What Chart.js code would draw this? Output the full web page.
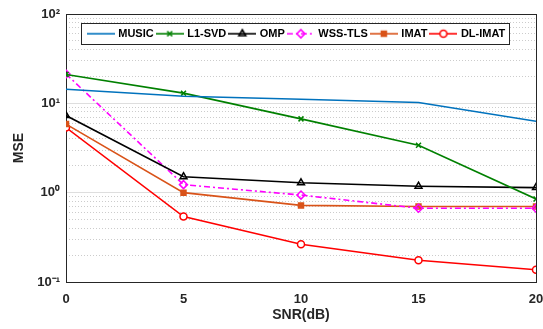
<!DOCTYPE html>
<html>
<head>
<meta charset="utf-8">
<script src="https://cdn.jsdelivr.net/npm/chart.js@4.4.0/dist/chart.umd.min.js"></script>
<style>
html, body { margin: 0; padding: 0; background: #fff; }
</style>
</head>
<body>
<canvas id="grafico" width="543" height="329"></canvas>
<script>
// Dados
const snr = [0, 5, 10, 15, 20];
const music = [14.4, 12.0, 11.1, 10.2, 6.3];
const l1svd = [21.0, 13.0, 6.7, 3.4, 0.85];
const omp = [7.3, 1.51, 1.29, 1.18, 1.14];
const wssTls = [21.3, 1.23, 0.94, 0.67, 0.67];
const imat = [5.86, 1.0, 0.72, 0.70, 0.70];
const dlImat = [5.35, 0.54, 0.264, 0.175, 0.137];

const ticksX = [0, 5, 10, 15, 20];
const decadas = [0.1, 1, 10, 100];
const rotulosDecada = ['10⁻¹', '10⁰', '10¹', '10²'];
const menores = [0.2, 0.3, 0.4, 0.5, 0.6, 0.7, 0.8, 0.9,
                 2, 3, 4, 5, 6, 7, 8, 9,
                 20, 30, 40, 50, 60, 70, 80, 90];

const corEixo = '#262626';
const fonte = 'Liberation Sans, Arial, sans-serif';

// Ícone da legenda: linha + marcador
function iconeLegenda(cor, tracejado, estilo, raio, preenchimento) {
    const c = document.createElement('canvas');
    c.width = 28;
    c.height = 12;
    const g = c.getContext('2d');
    g.strokeStyle = cor;
    g.lineWidth = 1.6;
    g.setLineDash(tracejado);
    g.beginPath();
    g.moveTo(0, 6);
    g.lineTo(28, 6);
    g.stroke();
    g.setLineDash([]);
    if (estilo) {
        g.fillStyle = preenchimento;
        Chart.helpers.drawPoint(g, {pointStyle: estilo, radius: raio, rotation: 0, borderWidth: 1.5}, 14, 6);
    }
    return c;
}

function serie(rotulo, valores, cor, tracejado, estilo, raio, preenchimento) {
    return {
        label: rotulo,
        data: valores.map((v, i) => ({x: snr[i], y: v})),
        borderColor: cor,
        backgroundColor: preenchimento,
        borderWidth: 1.6,
        borderDash: tracejado,
        pointStyle: estilo || 'circle',
        pointRadius: estilo ? raio : 0,
        pointBorderWidth: 1.5,
        pointBorderColor: cor,
        pointBackgroundColor: preenchimento,
        tension: 0,
        icone: iconeLegenda(cor, tracejado, estilo, raio, preenchimento)
    };
}

const datasets = [
    serie('MUSIC', music, '#0072BD', [], null, 0, '#0072BD'),
    serie('L1-SVD', l1svd, '#008000', [], 'crossRot', 3.5, '#008000'),
    serie('OMP', omp, '#000000', [], 'triangle', 4, 'rgba(0,0,0,0)'),
    serie('WSS-TLS', wssTls, '#FF00FF', [6, 3, 2, 3], 'rectRot', 4, 'rgba(0,0,0,0)'),
    serie('IMAT', imat, '#D95319', [], 'rect', 3.5, '#D95319'),
    serie('DL-IMAT', dlImat, '#FF0000', [], 'circle', 3.5, '#ffffff')
];

// Legenda horizontal dentro da área do gráfico, com moldura
const caixaLegenda = {
    id: 'caixaLegenda',
    afterInit(chart) {
        if (chart.legend) chart.legend.isHorizontal = () => true;
    },
    afterUpdate(chart) {
        const lg = chart.legend;
        const area = chart.chartArea;
        if (!lg) return;
        lg.left = area.left - 8;
        lg.right = area.right;
        lg.top = area.top;
        lg.fit();
        lg.adjustHitBoxes();
    },
    beforeDatasetsDraw(chart) {
        const lg = chart.legend;
        if (!lg || !lg.legendHitBoxes.length) return;
        const hb = lg.legendHitBoxes;
        const esq = Math.min(...hb.map(b => b.left)) - 8;
        const dir = Math.max(...hb.map(b => b.left + b.width)) + 3;
        const topo = Math.min(...hb.map(b => b.top)) - 5;
        const base = Math.max(...hb.map(b => b.top + b.height)) + 5;
        const g = chart.ctx;
        g.save();
        g.fillStyle = '#ffffff';
        g.fillRect(esq, topo, dir - esq, base - topo);
        g.strokeStyle = corEixo;
        g.lineWidth = 1;
        g.strokeRect(Math.round(esq) + 0.5, Math.round(topo) + 0.5, Math.round(dir - esq), Math.round(base - topo));
        g.restore();
        lg.draw();
    }
};

new Chart(document.getElementById('grafico'), {
    type: 'line',
    data: { datasets: datasets },
    plugins: [caixaLegenda],
    options: {
        responsive: false,
        animation: false,
        layout: { padding: { top: 14, right: 7, left: 4, bottom: 0 } },
        plugins: {
            tooltip: { enabled: false },
            legend: {
                position: 'chartArea',
                align: 'center',
                title: { display: true, text: '', font: { size: 1 }, padding: 4.5 },
                labels: {
                    usePointStyle: true,
                    pointStyleWidth: 24,
                    padding: 4,
                    color: '#000',
                    font: { family: fonte, size: 11, weight: 'bold' },
                    generateLabels(chart) {
                        return chart.data.datasets.map((ds, i) => ({
                            text: ds.label,
                            pointStyle: ds.icone,
                            fontColor: '#000',
                            datasetIndex: i,
                            hidden: false,
                            lineWidth: 0
                        }));
                    }
                }
            }
        },
        scales: {
            x: {
                type: 'linear',
                position: 'bottom',
                min: 0,
                max: 20,
                afterBuildTicks(scale) { scale.ticks = ticksX.map(v => ({value: v})); },
                afterFit(scale) {
                    scale.height = 47;
                    scale.paddingLeft = 0;
                    scale.paddingRight = 0;
                },
                grid: { drawOnChartArea: false, drawTicks: false },
                border: { color: corEixo, width: 1 },
                ticks: { color: corEixo, padding: 10, font: { family: fonte, size: 13, weight: 'bold' } },
                title: { display: true, text: 'SNR(dB)', color: corEixo, padding: { top: 2, bottom: 5 },
                         font: { family: fonte, size: 14, weight: 'bold' } }
            },
            xTopo: {
                type: 'linear',
                position: 'top',
                min: 0,
                max: 20,
                afterFit(scale) { scale.height = 0; },
                grid: { drawOnChartArea: false, drawTicks: false },
                border: { color: corEixo, width: 1 },
                ticks: { display: false }
            },
            y: {
                type: 'logarithmic',
                position: 'left',
                min: 0.1,
                max: 100,
                afterBuildTicks(scale) { scale.ticks = decadas.map(v => ({value: v})); },
                afterFit(scale) { scale.width = 62; },
                grid: { color: '#dedede', lineWidth: 1, drawTicks: false },
                border: { color: corEixo, width: 1 },
                ticks: {
                    color: corEixo,
                    padding: 6,
                    font: { family: fonte, size: 13, weight: 'bold' },
                    callback(valor) {
                        const i = decadas.indexOf(valor);
                        return i >= 0 ? rotulosDecada[i] : '';
                    }
                },
                title: { display: true, text: 'MSE', color: corEixo, padding: { top: 7, bottom: 2 },
                         font: { family: fonte, size: 14, weight: 'bold' } }
            },
            yMenor: {
                type: 'logarithmic',
                position: 'left',
                min: 0.1,
                max: 100,
                afterBuildTicks(scale) { scale.ticks = menores.map(v => ({value: v})); },
                afterFit(scale) { scale.width = 0; },
                grid: { color: '#cccccc', lineWidth: 1, drawTicks: false },
                border: { display: false, dash: [1, 2] },
                ticks: { display: false }
            },
            yDir: {
                type: 'logarithmic',
                position: 'right',
                min: 0.1,
                max: 100,
                afterFit(scale) { scale.width = 0; },
                grid: { drawOnChartArea: false, drawTicks: false },
                border: { color: corEixo, width: 1 },
                ticks: { display: false }
            }
        }
    }
});
</script>
</body>
</html>
